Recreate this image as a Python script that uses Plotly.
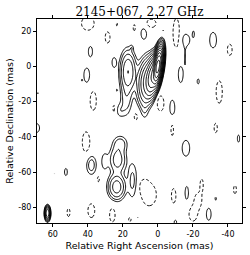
import numpy as np
import plotly.graph_objects as go

# Model components: x (mas), y (mas), peak (units of lowest contour), sigma_x, sigma_y, tilt (deg)
comp_x = [0.0, 3.0, 6.0, 8.5, 17.0, 18.0, 15.0, 23.5, 23.0, 21.5, 14.5, 63.0]
comp_y = [0.0, -5.5, -8.0, -10.0, -3.0, -18.0, 10.5, -68.5, -53.0, -44.0, -65.0, -83.5]
comp_amp = [3000, 250, 40, 6, 16, 3, 1.3, 12, 6, 3, 2.5, 64]
comp_sx = [1.0, 1.6, 2.2, 2.5, 2.3, 2.0, 0.7, 2.6, 2.7, 2.5, 1.8, 0.7]
comp_sy = [4.2, 5.0, 6.0, 7.0, 6.0, 6.0, 1.2, 3.8, 4.5, 2.8, 7.0, 1.8]
comp_tilt = [8, 8, 5, 0, 0, 0, 0, 0, 0, 0, 0, 0]

# Weak positive islands
pos_x = [8.0, 38.5, 40.6, 43.4, 60.6, 68.6, 25.0, 23.4, 21.5, 7.5, -8.2, -16.0, -15.5,
         -20.3, -31.5, -13.0, -23.0, -3.0, 69.0, 38.0, 52.5, 59.0, 30.5, 11.4, -46.0,
         -16.0, -16.5, -29.0, -10.0]
pos_y = [19.0, 8.5, -5.0, -7.8, -10.7, -15.2, 2.3, -13.5, -25.0, -23.5, -23.5, 15.0, 5.0,
         18.5, 15.0, -4.5, -8.5, 20.5, -35.0, -56.0, -60.0, -61.0, -54.0, -86.0, -41.0,
         -46.5, -72.0, -84.0, -88.5]
pos_amp = [1.6, 1.5, 1.6, 1.05, 1.05, 1.1, 1.5, 1.1, 1.6, 1.6, 1.6, 1.8, 1.1,
           1.2, 1.6, 1.6, 1.3, 1.1, 1.6, 3.0, 1.4, 1.05, 1.6, 1.1, 1.4,
           1.6, 1.5, 1.6, 1.3]
pos_sx = [1.7, 1.3, 1.7, 0.4, 0.4, 0.5, 1.3, 0.5, 1.8, 1.4, 1.5, 2.0, 0.6,
          0.8, 2.0, 1.4, 0.8, 0.5, 1.5, 1.9, 1.0, 0.4, 1.5, 0.5, 0.8,
          2.2, 1.1, 1.4, 1.0]
pos_sy = [3.6, 3.2, 4.2, 0.5, 0.6, 0.9, 3.0, 0.9, 2.8, 4.3, 4.5, 3.0, 5.5,
          2.5, 4.5, 4.8, 2.0, 0.8, 2.5, 3.6, 2.5, 0.4, 4.0, 0.8, 2.5,
          4.6, 4.2, 3.5, 1.5]

# Negative islands (dashed contours)
neg_x = [40.0, 28.7, 23.4, 13.5, 4.0, -10.5, -41.0, -35.0, 36.9, 25.0, 12.6, -1.5,
         41.0, 34.0, 51.0, 38.0, 26.0, 16.0, -8.2, -33.0, 5.0, 8.0, -9.0, -25.0,
         -23.0, -20.0, -33.0, -44.0]
neg_y = [24.5, 16.5, 24.0, 22.0, 24.5, 19.0, 9.5, -14.5, -19.5, -24.0, -28.5, -21.0,
         -43.0, -64.0, -83.0, -82.0, -84.5, -87.0, -36.0, -35.0, -73.0, -68.0, -73.5, -67.0,
         -76.0, -84.0, -75.0, -70.0]
neg_amp = [-1.6, -1.5, -1.2, -1.3, -1.6, -1.7, -1.5, -1.6, -1.6, -1.4, -1.4, -1.6,
           -1.6, -1.3, -1.4, -1.6, -1.6, -1.3, -1.4, -1.4, -1.7, -1.3, -1.5, -1.4,
           -1.6, -1.6, -1.2, -1.4]
neg_sx = [3.7, 1.5, 0.6, 0.8, 3.0, 1.8, 1.5, 1.8, 1.8, 0.9, 1.2, 2.0,
          2.2, 0.8, 1.0, 2.0, 1.6, 1.0, 0.9, 1.1, 4.0, 2.0, 1.4, 1.0,
          2.0, 2.3, 0.7, 1.0]
neg_sy = [4.0, 3.5, 1.5, 2.5, 2.5, 8.0, 3.5, 6.5, 5.5, 3.0, 2.5, 4.5,
          6.0, 2.2, 2.8, 4.0, 4.0, 1.5, 4.0, 3.2, 6.0, 3.0, 4.5, 3.5,
          4.0, 4.0, 1.8, 2.8]

x_ticks = [60, 40, 20, 0, -20, -40]
y_ticks = [20, 0, -20, -40, -60, -80]
x_range = [69, -48]
y_range = [-89, 27]

gx = np.arange(-48.0, 69.01, 0.5)
gy = np.arange(-89.0, 27.01, 0.5)
X, Y = np.meshgrid(gx, gy)
I = np.zeros_like(X)

def add(x0, y0, a, sx, sy, t=0.0):
    th = np.deg2rad(t)
    dx, dy = X - x0, Y - y0
    u = dx * np.cos(th) + dy * np.sin(th)
    v = -dx * np.sin(th) + dy * np.cos(th)
    return a * np.exp(-0.5 * ((u / sx) ** 2 + (v / sy) ** 2))

for p in zip(comp_x, comp_y, comp_amp, comp_sx, comp_sy, comp_tilt):
    I += add(*p)
for p in zip(pos_x, pos_y, pos_amp, pos_sx, pos_sy):
    I += add(*p)
for p in zip(neg_x, neg_y, neg_amp, neg_sx, neg_sy):
    I += add(*p)

zpos = np.round(np.log2(np.maximum(I, 1e-2)), 3)
zneg = np.round(-I, 3)

black = [[0, "black"], [1, "black"]]
fig = go.Figure()
fig.add_trace(go.Contour(x=gx, y=gy, z=zpos, colorscale=black, showscale=False,
                         contours=dict(coloring="lines", start=0, end=13, size=1),
                         line=dict(width=1, smoothing=1), hoverinfo="skip"))
fig.add_trace(go.Contour(x=gx, y=gy, z=zneg, colorscale=black, showscale=False,
                         contours=dict(coloring="lines", start=1, end=1.01, size=1),
                         line=dict(width=1, dash="3px,2px", smoothing=1), hoverinfo="skip"))

axis_common = dict(showgrid=False, zeroline=False, showline=True, linecolor="black",
                   linewidth=1, mirror="ticks", ticks="outside", ticklen=3,
                   automargin=False,
                   tickcolor="black", tickfont=dict(family="DejaVu Sans", size=8, color="black"))
fig.update_xaxes(range=x_range, tickvals=x_ticks, ticktext=[str(v) for v in x_ticks],
                 title=dict(text="Relative Right Ascension (mas)", standoff=4,
                            font=dict(family="DejaVu Sans", size=9.5, color="black")),
                 **axis_common)
fig.update_yaxes(range=y_range, tickvals=y_ticks, ticktext=[str(v) for v in y_ticks],
                 title=dict(text="Relative Declination (mas)", standoff=2,
                            font=dict(family="DejaVu Sans", size=9.5, color="black")),
                 **axis_common)
fig.update_layout(template="none", width=250, height=255,
                  margin=dict(l=37, r=8, t=19, b=32, autoexpand=False),
                  paper_bgcolor="white", plot_bgcolor="white", showlegend=False,
                  title=dict(text="2145+067, 2.27 GHz", x=0.558, xanchor="center",
                             y=0.955, yanchor="middle",
                             font=dict(family="DejaVu Serif", size=12, color="black")))
fig.write_html("out.html", config={"displayModeBar": False},
               post_script="document.body.style.margin='0';document.body.style.padding='0';")
